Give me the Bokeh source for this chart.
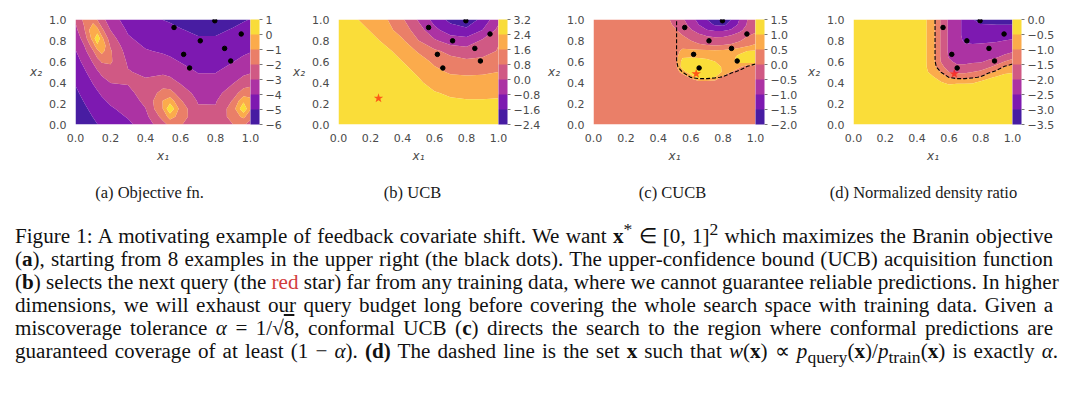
import numpy as np
from bokeh.plotting import figure
from bokeh.models import (Range1d, ColorBar, LinearColorMapper, FixedTicker,
                          NumeralTickFormatter, CustomJSTickFormatter, Label, Div)
from bokeh.layouts import row, column
from bokeh.palettes import Plasma256
from bokeh.embed import file_html
from bokeh.resources import INLINE

# ---------------- data ----------------
# training points (black dots) and next queries (stars)
TRAIN_X1 = [0.563, 0.713, 0.796, 0.947, 0.852, 0.618, 0.887, 0.652]
TRAIN_X2 = [0.924, 0.797, 0.988, 0.862, 0.725, 0.668, 0.605, 0.538]
QUERY_UCB = ([0.25], [0.25])
QUERY_CUCB = ([0.634], [0.483])

# (a) objective grid (values read per column, x2 ascending)
X1_OBJ = [0, 0.05, 0.1, 0.125, 0.15, 0.2, 0.3, 0.4, 0.5, 0.54, 0.6, 0.7, 0.8, 0.9, 0.96, 1.0]
X2_OBJ = [0, 0.075, 0.15, 0.225, 0.3, 0.4, 0.5, 0.6, 0.7, 0.75, 0.82, 0.9, 1.0]
OBJ_COLS = [
    [-5.73, -5.60, -5.46, -5.32, -5.16, -4.93, -4.67, -4.38, -4.05, -3.87, -3.60, -3.27, -2.86],
    [-5.45, -5.30, -5.14, -4.96, -4.77, -4.48, -4.15, -3.76, -3.29, -3.02, -2.61, -2.11, -1.75],
    [-5.16, -4.98, -4.79, -4.57, -4.33, -3.95, -3.50, -2.90, -2.09, -1.53, -0.55, -0.12, -1.49],
    [-5.01, -4.82, -4.61, -4.37, -4.10, -3.67, -3.13, -2.39, -1.23, -0.31, 0.91, -0.69, -2.08],
    [-4.87, -4.66, -4.43, -4.17, -3.87, -3.39, -2.77, -1.90, -0.62, -0.13, -0.70, -1.75, -2.67],
    [-4.61, -4.38, -4.12, -3.83, -3.50, -2.98, -2.38, -1.87, -1.89, -2.13, -2.55, -3.02, -3.53],
    [-4.18, -3.93, -3.67, -3.41, -3.17, -2.95, -2.94, -3.14, -3.46, -3.64, -3.88, -4.14, -4.45],
    [-3.58, -3.29, -3.02, -2.81, -2.72, -2.85, -3.18, -3.56, -3.93, -4.10, -4.32, -4.56, -4.83],
    [-2.33, -1.65, -0.97, -0.96, -1.63, -2.51, -3.18, -3.70, -4.11, -4.29, -4.52, -4.76, -5.01],
    [-1.75, -0.59, 0.89, -0.43, -1.65, -2.64, -3.31, -3.81, -4.21, -4.39, -4.61, -4.83, -5.08],
    [-1.89, -1.40, -1.39, -1.88, -2.45, -3.10, -3.62, -4.04, -4.40, -4.55, -4.75, -4.96, -5.20],
    [-2.90, -2.82, -2.89, -3.08, -3.33, -3.70, -4.04, -4.36, -4.65, -4.78, -4.95, -5.13, -5.34],
    [-2.93, -2.85, -2.91, -3.09, -3.34, -3.70, -4.04, -4.36, -4.64, -4.77, -4.95, -5.13, -5.34],
    [-2.01, -1.54, -1.49, -1.90, -2.44, -3.08, -3.60, -4.03, -4.38, -4.54, -4.74, -4.95, -5.18],
    [-1.86, -0.77, 0.81, -0.22, -1.52, -2.56, -3.25, -3.77, -4.18, -4.35, -4.58, -4.81, -5.06],
    [-2.39, -1.70, -0.92, -0.73, -1.43, -2.39, -3.10, -3.64, -4.06, -4.25, -4.48, -4.72, -4.98],
]
LEVELS_OBJ = [-6, -5, -4, -3, -2, -1, 0, 1]

# (b) UCB grid (rows x2 ascending)
X_UCB = [0, 0.1, 0.2, 0.3, 0.4, 0.5, 0.6, 0.7, 0.8, 0.9, 1.0]
Y_UCB = [0, 0.1, 0.2, 0.3, 0.4, 0.5, 0.6, 0.7, 0.8, 0.9, 1.0]
UCB_ROWS = [
    [3.0, 3.0, 3.0, 3.0, 3.0, 3.0, 2.95, 2.9, 2.85, 2.85, 2.85],
    [3.0, 3.0, 3.0, 3.0, 3.0, 2.95, 2.85, 2.75, 2.7, 2.7, 2.7],
    [3.0, 3.0, 3.0, 3.0, 3.0, 2.9, 2.7, 2.55, 2.5, 2.5, 2.5],
    [3.0, 3.0, 3.0, 3.0, 3.0, 2.75, 2.45, 2.3, 2.25, 2.25, 2.3],
    [3.0, 3.0, 3.0, 3.0, 2.8, 2.5, 2.15, 1.95, 1.9, 1.9, 1.95],
    [3.0, 3.0, 3.0, 2.9, 2.6, 2.3, 1.8, 1.5, 1.45, 1.5, 1.6],
    [3.0, 3.0, 2.95, 2.75, 2.4, 1.95, 1.45, 1.1, 0.95, 1.0, 1.15],
    [3.0, 3.0, 2.85, 2.55, 2.1, 1.5, 0.95, 0.55, 0.35, 0.5, 0.85],
    [3.0, 2.95, 2.65, 2.2, 1.7, 0.8, 0.1, -0.4, -0.5, 0.1, 0.75],
    [3.0, 2.8, 2.35, 1.85, 1.25, 0.35, -0.6, -1.2, -1.4, -0.8, 0.2],
    [3.0, 2.5, 2.05, 1.65, 0.9, -0.1, -1.1, -1.85, -2.2, -1.35, -0.2],
]
LEVELS_UCB = [-2.4, -1.6, -0.8, 0.0, 0.8, 1.6, 2.4, 3.2]

# (c) CUCB and (d) density-ratio grids share coordinates
X_CR = [0, 0.25, 0.45, 0.5, 0.55, 0.6, 0.65, 0.7, 0.75, 0.8, 0.85, 0.9, 0.95, 1.0]
Y_CR = [0, 0.2, 0.35, 0.4, 0.45, 0.5, 0.55, 0.6, 0.65, 0.7, 0.75, 0.8, 0.85, 0.9, 0.95, 1.0]
CUCB_ROWS = [
    [0.2] * 14,
    [0.2] * 14,
    [0.2] * 14,
    [0.2] * 14,
    [0.2, 0.2, 0.2, 0.2, 0.2, 0.6, 1.3, 1.3, 1.0, 0.3, 0.2, 0.2, 0.2, 0.2],
    [0.2, 0.2, 0.2, 0.2, 0.7, 1.35, 1.35, 1.3, 1.2, 0.95, 0.5, 0.2, 0.2, 0.2],
    [0.2, 0.2, 0.2, 0.2, 1.25, 1.35, 1.35, 1.3, 1.15, 0.95, 0.85, 0.6, 0.2, 0.2],
    [0.2, 0.2, 0.2, 0.2, 1.2, 1.25, 1.2, 1.15, 1.0, 0.88, 0.9, 1.15, 1.3, 1.3],
    [0.2, 0.2, 0.2, 0.2, 0.9, 0.92, 0.9, 0.85, 0.78, 0.75, 0.85, 1.1, 1.25, 1.3],
    [0.2, 0.2, 0.2, 0.2, 0.65, 0.65, 0.62, 0.6, 0.58, 0.6, 0.68, 0.85, 1.0, 1.05],
    [0.2, 0.2, 0.2, 0.2, 0.3, 0.2, 0.1, 0.05, 0.02, 0.05, 0.1, 0.25, 0.45, 0.6],
    [0.2, 0.2, 0.2, 0.18, 0.12, 0.0, -0.15, -0.25, -0.3, -0.28, -0.2, -0.05, 0.15, 0.3],
    [0.2, 0.2, 0.18, 0.12, 0.0, -0.2, -0.4, -0.55, -0.62, -0.6, -0.5, -0.3, -0.05, 0.1],
    [0.2, 0.2, 0.15, 0.05, -0.15, -0.45, -0.75, -0.98, -1.1, -1.1, -0.95, -0.65, -0.3, -0.1],
    [0.2, 0.2, 0.12, -0.05, -0.3, -0.65, -1.0, -1.3, -1.55, -1.58, -1.35, -0.9, -0.45, -0.2],
    [0.2, 0.2, 0.1, -0.15, -0.42, -0.8, -1.15, -1.5, -1.8, -1.85, -1.5, -1.0, -0.5, -0.3],
]
LEVELS_CUCB = [-2.0, -1.5, -1.0, -0.5, 0.0, 0.5, 1.0, 1.5]

RATIO_COLS = [
    [-0.1] * 16,
    [-0.1] * 16,
    [-0.1, -0.1, -0.15, -0.2, -0.3, -0.38, -0.42, -0.42, -0.42, -0.42, -0.42, -0.42, -0.42, -0.42, -0.42, -0.42],
    [-0.1, -0.1, -0.15, -0.25, -0.45, -0.7, -0.82, -0.86, -0.86, -0.86, -0.86, -0.86, -0.86, -0.86, -0.86, -0.86],
    [-0.1, -0.1, -0.2, -0.45, -0.75, -1.05, -1.35, -1.52, -1.56, -1.56, -1.56, -1.56, -1.56, -1.56, -1.56, -1.56],
    [-0.1, -0.1, -0.25, -0.65, -1.05, -1.5, -1.75, -1.92, -2.05, -2.09, -2.09, -2.09, -2.09, -2.09, -2.09, -2.09],
    [-0.1, -0.1, -0.2, -0.6, -1.2, -1.6, -1.9, -2.1, -2.2, -2.3, -2.38, -2.38, -2.38, -2.38, -2.38, -2.38],
    [-0.1, -0.1, -0.2, -0.6, -1.2, -1.6, -1.9, -2.1, -2.2, -2.3, -2.45, -2.55, -2.6, -2.6, -2.6, -2.6],
    [-0.1, -0.1, -0.18, -0.58, -1.1, -1.5, -1.8, -2.08, -2.2, -2.3, -2.45, -2.6, -2.75, -2.85, -2.93, -2.98],
    [-0.1, -0.1, -0.12, -0.35, -1.0, -1.4, -1.75, -2.05, -2.2, -2.3, -2.42, -2.6, -2.75, -2.85, -2.97, -3.2],
    [-0.1, -0.1, -0.1, -0.2, -0.62, -1.15, -1.58, -1.93, -2.15, -2.28, -2.4, -2.58, -2.75, -2.87, -2.98, -3.25],
    [-0.1, -0.1, -0.1, -0.15, -0.42, -0.9, -1.36, -1.74, -2.1, -2.25, -2.38, -2.55, -2.72, -2.86, -3.0, -3.3],
    [-0.1, -0.1, -0.1, -0.12, -0.3, -0.62, -1.0, -1.5, -1.9, -2.2, -2.35, -2.5, -2.7, -2.85, -3.0, -3.3],
    [-0.1, -0.1, -0.1, -0.1, -0.25, -0.55, -0.82, -1.25, -1.75, -2.08, -2.3, -2.45, -2.68, -2.85, -3.0, -3.3],
]
LEVELS_RATIO = [-3.5, -3.0, -2.5, -2.0, -1.5, -1.0, -0.5, 0.0]
DASH_LEVEL = -1.04   # log(1/sqrt(8))

AXIS_TICKS = [0.0, 0.2, 0.4, 0.6, 0.8, 1.0]
SUBCAPTIONS = ["(a) Objective fn.", "(b) UCB", "(c) CUCB", "(d) Normalized density ratio"]

CAPTION_LINES = [
    'Figure 1: A motivating example of feedback covariate shift. We want <b>x</b><sup style="line-height:0">*</sup> \u2208 [0, 1]<sup style="line-height:0">2</sup> which maximizes the Branin objective',
    '(<b>a</b>), starting from 8 examples in the upper right (the black dots). The upper-confidence bound (UCB) acquisition function',
    '(<b>b</b>) selects the next query (the <span style="color:#d23b3b">red</span> star) far from any training data, where we cannot guarantee reliable predictions. In higher',
    'dimensions, we will exhaust our query budget long before covering the whole search space with training data. Given a',
    'miscoverage tolerance <i>\u03b1</i> = 1/\u221a<span style="text-decoration:overline">8</span>, conformal UCB (<b>c</b>) directs the search to the region where conformal predictions are',
    'guaranteed coverage of at least (1 \u2212 <i>\u03b1</i>). <b>(d)</b> The dashed line is the set <b>x</b> such that <i>w</i>(<b>x</b>) \u221d <i>p</i><sub style="line-height:0">query</sub>(<b>x</b>)/<i>p</i><sub style="line-height:0">train</sub>(<b>x</b>) is exactly <i>\u03b1</i>.',
]

# ---------------- styling ----------------
BANDS = [Plasma256[i] for i in (18, 54, 91, 128, 164, 201, 237)]
ALPHA = 0.9
TXT = "#4a4a4a"
FONT = "DejaVu Sans"


def panel(width, left, right, xs, ys, z, levels, decimals):
    p = figure(width=width, height=165, x_range=Range1d(0, 1), y_range=Range1d(0, 1),
               output_backend="svg", toolbar_location=None,
               min_border_left=left, min_border_right=right,
               min_border_top=19, min_border_bottom=36)
    p.contour(xs, ys, z, levels, fill_color=BANDS, fill_alpha=ALPHA, line_color=None)
    p.xgrid.visible = False
    p.ygrid.visible = False
    p.outline_line_color = None
    p.background_fill_color = "white"
    for ax in (p.xaxis[0], p.yaxis[0]):
        ax.ticker = FixedTicker(ticks=AXIS_TICKS)
        ax.formatter = NumeralTickFormatter(format="0.0")
        ax.axis_line_color = None
        ax.major_tick_line_color = None
        ax.minor_tick_line_color = None
        ax.major_label_text_font = FONT
        ax.major_label_text_font_size = "11px"
        ax.major_label_text_color = TXT
        ax.major_label_standoff = 3
        ax.axis_label_text_font = FONT
        ax.axis_label_text_font_size = "12px"
        ax.axis_label_text_font_style = "italic"
        ax.axis_label_text_color = TXT
        ax.axis_label_standoff = 4
    p.xaxis[0].axis_label = "x\u2081"
    p.yaxis[0].axis_label = "x\u2082"
    if "axis_label_orientation" in p.yaxis[0].properties():
        p.yaxis[0].axis_label_orientation = "horizontal"
    mapper = LinearColorMapper(palette=BANDS, low=levels[0], high=levels[-1])
    cb = ColorBar(color_mapper=mapper, ticker=FixedTicker(ticks=levels),
                  formatter=CustomJSTickFormatter(
                      code="return tick.toFixed(%d).replace('-', '\u2212')" % decimals),
                  width=9, margin=0, padding=0, scale_alpha=ALPHA,
                  major_tick_out=3, major_tick_in=0, major_tick_line_color="#777777",
                  minor_tick_line_color=None,
                  major_label_text_font=FONT, major_label_text_font_size="11px",
                  major_label_text_color=TXT, label_standoff=3,
                  bar_line_color=None, border_line_color=None,
                  background_fill_color=None)
    p.add_layout(cb, "right")
    return p


pa = panel(290, 75, 40, X1_OBJ, X2_OBJ, np.array(OBJ_COLS).T, LEVELS_OBJ, 0)
pb = panel(255, 42, 47, X_UCB, Y_UCB, np.array(UCB_ROWS), LEVELS_UCB, 1)
pc = panel(260, 44, 50, X_CR, Y_CR, np.array(CUCB_ROWS), LEVELS_CUCB, 1)
pd = panel(275, 41, 68, X_CR, Y_CR, np.array(RATIO_COLS).T, LEVELS_RATIO, 1)

# dashed boundary w(x) = alpha on (c) and (d)
for p in (pc, pd):
    p.contour(X_CR, Y_CR, np.array(RATIO_COLS).T, [DASH_LEVEL],
              fill_color=None, line_color="black", line_dash="4 2", line_width=1.1)

for p in (pa, pb, pc, pd):
    p.scatter(TRAIN_X1, TRAIN_X2, size=4.5, color="black")

pb.scatter(*QUERY_UCB, marker="star", size=10, fill_color="red", fill_alpha=0.6, line_color=None)
pc.scatter(*QUERY_CUCB, marker="star", size=10, fill_color="red", fill_alpha=0.6, line_color=None)
pd.scatter(*QUERY_CUCB, marker="star", size=10, fill_color="red", fill_alpha=0.6, line_color=None)

# sub-captions strip (coordinates in page pixels)
strip = figure(width=1080, height=45, x_range=Range1d(0, 1080), y_range=Range1d(210, 165),
               output_backend="svg", toolbar_location=None, min_border=0)
strip.axis.visible = False
strip.grid.visible = False
strip.outline_line_color = None
for cx, txt in zip([149, 412, 672, 923], SUBCAPTIONS):
    strip.add_layout(Label(x=cx, y=192, text=txt, text_font="Liberation Serif",
                           text_font_size="16.5px", text_align="center",
                           text_baseline="middle", text_color="#1a1a1a"))

just = "text-align:justify;text-align-last:justify;white-space:nowrap;"
html = ['<div style="padding:15px 0 0 15px;width:1053px;font-family:\'Liberation Serif\',serif;'
        'font-size:21.1px;line-height:23px;color:#111111;">']
for i, ln in enumerate(CAPTION_LINES):
    style = just if i < len(CAPTION_LINES) - 1 else just + "width:1043px;"
    html.append('<div style="%s">%s</div>' % (style, ln))
html.append('</div>')
caption = Div(text="".join(html), width=1080, height=175, styles={"margin": "0", "padding": "0"})

layout = column(row(pa, pb, pc, pd), strip, caption)
open("out.html", "w").write(file_html(layout, INLINE))
